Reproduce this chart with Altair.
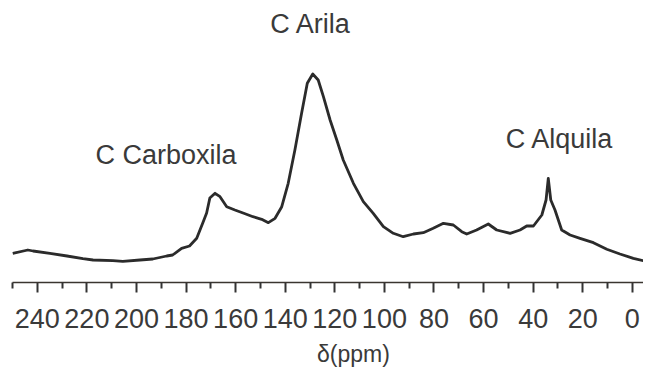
import altair as alt
import pandas as pd

# 13C NMR spectrum (chemical shift in ppm, relative intensity)
ppm = [249.7, 243.6, 241.5, 234.7, 227.8, 221.4, 217.3, 209.3, 205.3, 198.4, 193.2,
       187.6, 185.2, 181.6, 178.4, 175.5, 173.1, 171.5, 170.2, 168.1, 166.1, 163.4,
       160.1, 156.8, 152.8, 149.3, 146.6, 143.9, 141.2, 138.6, 135.9, 133.2, 130.9,
       128.7, 126.5, 124.4, 121.7, 119.0, 116.4, 112.3, 108.3, 104.3, 100.2, 96.2,
       92.2, 88.1, 84.1, 80.1, 76.0, 72.0, 68.6, 66.6, 62.6, 57.9, 54.5, 49.1, 45.1,
       42.4, 39.7, 36.3, 34.6, 33.7, 32.7, 31.0, 28.3, 24.9, 20.9, 15.5, 10.1, 4.8,
       -0.6, -4.6, -7.3]
intensity = [28.7, 32.0, 31.0, 28.7, 26.0, 23.3, 22.0, 21.3, 20.7, 22.0, 23.0,
             26.0, 27.0, 33.7, 36.0, 43.7, 58.7, 69.0, 84.0, 88.7, 85.3, 75.3,
             72.0, 69.0, 65.3, 62.7, 59.3, 63.7, 75.3, 98.7, 132.0, 168.7, 198.7,
             208.0, 202.0, 185.3, 162.0, 142.0, 122.0, 98.7, 80.3, 68.7, 55.3, 48.7,
             45.3, 48.0, 49.3, 53.7, 58.7, 57.0, 50.3, 48.0, 52.0, 58.0, 52.0, 48.7, 52.0,
             56.0, 56.0, 67.0, 82.0, 103.7, 82.0, 72.0, 52.0, 47.0, 43.7, 39.3, 32.7, 28.0,
             23.7, 21.3, 22.7]

labels = ["C Arila", "C Carboxila", "C Alquila"]
label_ppm = [129.8, 187.9, 29.4]
label_int = [248.7, 118.0, 133.7]

major_ticks = list(range(0, 241, 20))
minor_ticks = list(range(10, 251, 20))

df = pd.DataFrame({"ppm": ppm, "I": intensity})
df_lab = pd.DataFrame({"ppm": label_ppm, "I": label_int, "label": labels})

FONT = "Liberation Sans"
x_scale = alt.Scale(domain=[-4.5, 250], reverse=True, nice=False, zero=False)
y_scale = alt.Scale(domain=[0, 274], nice=False, zero=False)

line = alt.Chart(df).mark_line(color="#2b2b2b", strokeWidth=2.8, strokeJoin="round",
                               clip=True).encode(
    x=alt.X("ppm:Q", scale=x_scale,
            axis=alt.Axis(values=major_ticks, orient="bottom", tickSize=10, tickWidth=2,
                          tickColor="#333333", domainColor="#3a3530", domainWidth=1.6,
                          labelFont=FONT, labelFontSize=27, labelColor="#3a3a3a",
                          labelPadding=14, labelFlush=False, labelOverlap=False,
                          grid=False, title="δ(ppm)", titleFont=FONT, titleFontSize=23,
                          titleFontWeight="normal", titleColor="#3a3a3a",
                          titleX=341, titleY=79, titleAlign="center",
                          titleBaseline="alphabetic")),
    y=alt.Y("I:Q", scale=y_scale, axis=None),
)

text = alt.Chart(df_lab).mark_text(font=FONT, fontSize=27, color="#3a3a3a",
                                   align="center", baseline="alphabetic").encode(
    x=alt.X("ppm:Q", scale=x_scale,
            axis=alt.Axis(values=minor_ticks, orient="bottom", tickSize=6, tickWidth=2,
                          tickColor="#333333", labels=False, domain=False, grid=False,
                          title=None)),
    y=alt.Y("I:Q", scale=y_scale, axis=None),
    text="label:N",
)

chart = alt.layer(line, text).resolve_axis(x="independent").properties(
    width=631, height=274,
    autosize=alt.AutoSizeParams(type="none"),
    padding={"left": 4, "top": 0, "right": 0, "bottom": 86},
    background="white",
).configure_view(stroke=None)

chart.save("out.html", embed_options={"renderer": "svg", "actions": False})
